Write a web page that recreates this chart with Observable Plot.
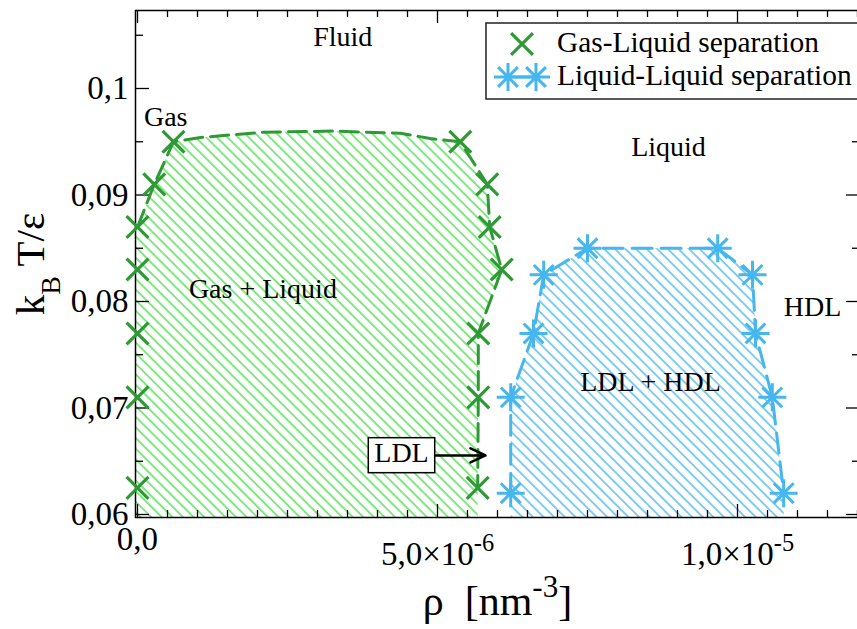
<!DOCTYPE html>
<html><head><meta charset="utf-8">
<script src="https://cdn.jsdelivr.net/npm/d3@7"></script>
<script src="https://cdn.jsdelivr.net/npm/@observablehq/plot@0.6"></script>
<style>
html,body{margin:0;padding:0;background:#fff;overflow:hidden}
#chart{position:relative;width:857px;height:629px}
</style>
</head><body>
<svg width="0" height="0" style="position:absolute">
<defs>
<pattern id="hatchGreen" patternUnits="userSpaceOnUse" width="7.5" height="7.5" patternTransform="rotate(45)">
<line x1="0" y1="3.75" x2="7.5" y2="3.75" stroke="#3ede3e" stroke-width="1.3"/>
</pattern>
<pattern id="hatchBlue" patternUnits="userSpaceOnUse" width="7.5" height="7.5" patternTransform="rotate(45)">
<line x1="0" y1="3.75" x2="7.5" y2="3.75" stroke="#3cb3ec" stroke-width="1.3"/>
</pattern>
</defs></svg>
<div id="chart"></div>
<script>
// ---- data ----
const xTicks = [0, 5e-6, 1e-5];
const xTickLabels = ["0,0", "5,0×10^{-6}", "1,0×10^{-5}"];
const xMinorTicks = [0.5e-6, 1e-6, 1.5e-6, 2e-6, 2.5e-6, 3e-6, 3.5e-6, 4e-6, 4.5e-6,
  5.5e-6, 6e-6, 6.5e-6, 7e-6, 7.5e-6, 8e-6, 8.5e-6, 9e-6, 9.5e-6, 10.5e-6, 11e-6, 11.5e-6, 12e-6];
const yTicks = [0.06, 0.07, 0.08, 0.09, 0.1];
const yTickLabels = ["0,06", "0,07", "0,08", "0,09", "0,1"];
const yMinorTicks = [0.065, 0.075, 0.085, 0.095, 0.105];

// Gas-Liquid separation points (ordered along the boundary)
const glRho = [0, 0, 0, 0, 0, 0.28e-6, 0.6e-6, 5.38e-6, 5.83e-6, 5.87e-6, 6.07e-6, 5.68e-6, 5.68e-6, 5.67e-6];
const glT   = [0.0625, 0.071, 0.077, 0.083, 0.087, 0.091, 0.095, 0.095, 0.091, 0.087, 0.083, 0.077, 0.071, 0.0625];
// top of the gas-liquid dome (dashed guide line)
const glDomeRho = [1.05e-6, 2.1e-6, 3.27e-6, 4.38e-6, 4.88e-6];
const glDomeT   = [0.0954, 0.0959, 0.0960, 0.0958, 0.0953];

// Liquid-Liquid separation points
const llRho = [6.22e-6, 6.22e-6, 6.6e-6, 6.77e-6, 7.5e-6, 9.67e-6, 10.25e-6, 10.3e-6, 10.58e-6, 10.77e-6];
const llT   = [0.062, 0.071, 0.077, 0.0825, 0.085, 0.085, 0.0825, 0.077, 0.071, 0.062];

// annotations
const noteText = ["Fluid", "Gas", "Liquid", "Gas + Liquid", "HDL", "LDL + HDL", "LDL"];
const noteRho  = [3.42e-6, 0.47e-6, 8.85e-6, 2.09e-6, 11.25e-6, 8.55e-6, 4.4e-6];
const noteT    = [0.1048, 0.0973, 0.0945, 0.0812, 0.0795, 0.0724, 0.0658];
const arrowRho = [4.97e-6, 5.8e-6];
const arrowT   = [0.06555, 0.06555];

const legendLabels = ["Gas-Liquid separation", "Liquid-Liquid separation"];
const xLabel = "ρ  [nm^{-3}]";
const yLabel = "k_{B} T/ε";

const xDom = [-0.0333e-6, 12.0333e-6];
const yDom = [0.059718, 0.107324];

const green = "#2f9a35", blue = "#45b7ee";
const FONT = "'Liberation Serif', 'Times New Roman', serif";

// ---- derived tables ----
const gl = glRho.map((x, i) => ({x, y: glT[i]}));
const dome = glDomeRho.map((x, i) => ({x, y: glDomeT[i]}));
const glBoundary = [...gl.slice(0, 7), ...dome, ...gl.slice(7)];
const glFill = [{x: xDom[0], y: yDom[0]}, {x: xDom[0], y: gl[4].y}, ...glBoundary.slice(4), {x: gl[gl.length - 1].x, y: yDom[0]}];
const ll = llRho.map((x, i) => ({x, y: llT[i]}));
const llFill = [{x: ll[0].x, y: yDom[0]}, ...ll, {x: ll[ll.length - 1].x, y: yDom[0]}];
const notes = noteText.map((t, i) => ({t, x: noteRho[i], y: noteT[i]}));
const arrows = [{x1: arrowRho[0], x2: arrowRho[1], y1: arrowT[0], y2: arrowT[1]}];

const asterisk8 = {
  draw(ctx, size) {
    const r = Math.sqrt(size / Math.PI), d = r * Math.SQRT1_2;
    ctx.moveTo(-r, 0); ctx.lineTo(r, 0);
    ctx.moveTo(0, -r); ctx.lineTo(0, r);
    ctx.moveTo(-d, -d); ctx.lineTo(d, d);
    ctx.moveTo(-d, d); ctx.lineTo(d, -d);
  }
};

const mL = 135, mR = -2, mT = 10, mB = 112, Wd = 857, Ht = 629;
const FW = Wd - mL - mR, FH = Ht - mT - mB;
const tk = {stroke: "#000", strokeWidth: 1.3};

const chart = Plot.plot({
  width: Wd, height: Ht,
  marginLeft: mL, marginRight: mR, marginTop: mT, marginBottom: mB,
  style: {fontFamily: FONT, background: "white", color: "#000"},
  x: {domain: xDom, label: null},
  y: {domain: yDom, label: null},
  marks: [
    Plot.line(glFill, {x: "x", y: "y", fill: "url(#hatchGreen)", stroke: "none"}),
    Plot.line(llFill, {x: "x", y: "y", fill: "url(#hatchBlue)", stroke: "none"}),
    Plot.frame({stroke: "#000", strokeWidth: 1.5}),
    Plot.tickX(xTicks, {x: d => d, insetTop: FH - 13, ...tk}),
    Plot.tickX(xMinorTicks, {x: d => d, insetTop: FH - 7, ...tk}),
    Plot.tickX(xTicks, {x: d => d, insetBottom: FH - 13, ...tk}),
    Plot.tickX(xMinorTicks, {x: d => d, insetBottom: FH - 7, ...tk}),
    Plot.tickY(yTicks, {y: d => d, insetRight: FW - 14, ...tk}),
    Plot.tickY(yMinorTicks, {y: d => d, insetRight: FW - 8, ...tk}),
    Plot.tickY(yTicks, {y: d => d, insetLeft: FW - 13, ...tk}),
    Plot.tickY(yMinorTicks, {y: d => d, insetLeft: FW - 7, ...tk}),
    Plot.line(glBoundary.slice(4), {x: "x", y: "y", stroke: green, strokeWidth: 3, strokeDasharray: "18,8"}),
    Plot.line(ll, {x: "x", y: "y", stroke: blue, strokeWidth: 3, strokeDasharray: "20,9"}),
    Plot.dot(gl, {x: "x", y: "y", symbol: "times", r: 10, stroke: green, strokeWidth: 3.2}),
    Plot.dot(ll, {x: "x", y: "y", symbol: asterisk8, r: 14, stroke: blue, fill: "none", strokeWidth: 3}),
    Plot.text(notes, {x: "x", y: "y", text: "t", fontSize: 28, fill: "#000"}),
    Plot.arrow(arrows, {x1: "x1", y1: "y1", x2: "x2", y2: "y2", stroke: "#000", strokeWidth: 2.5, headLength: 10, headAngle: 50}),
    Plot.axisX(xTicks, {tickSize: 0, tickPadding: 9, fontSize: 33, label: null, tickFormat: d => xTickLabels[xTicks.indexOf(d)]}),
    Plot.axisY(yTicks, {tickSize: 0, tickPadding: 7, fontSize: 33, label: null, tickFormat: d => yTickLabels[yTicks.indexOf(d)]}),
    Plot.text([yLabel], {text: d => d, frameAnchor: "left", textAnchor: "middle", lineAnchor: "middle", dx: -105, rotate: -90, fontSize: 41, fill: "#000"}),
    Plot.text([xLabel], {text: d => d, frameAnchor: "bottom", textAnchor: "middle", lineAnchor: "middle", dy: 84, fontSize: 42, fill: "#000"})
  ]
});
document.getElementById("chart").appendChild(chart);

// ---- rich text (sub/superscripts) ----
const NS = "http://www.w3.org/2000/svg";
function richify(el, lowerPx) {
  const s = el.textContent;
  if (!/[_^]\{/.test(s)) return;
  const fs = parseFloat(getComputedStyle(el).fontSize);
  el.textContent = "";
  const parts = [], re = /([_^])\{([^}]*)\}/g;
  let last = 0, m;
  while ((m = re.exec(s))) {
    if (m.index > last) parts.push({t: s.slice(last, m.index)});
    parts.push({t: m[2], k: m[1]});
    last = re.lastIndex;
  }
  if (last < s.length) parts.push({t: s.slice(last)});
  let cur = 0, first = true;
  for (const p of parts) {
    const ts = document.createElementNS(NS, "tspan");
    let target = 0;
    if (p.k === "^") { target = -0.42 * fs; ts.setAttribute("font-size", 0.74 * fs); }
    else if (p.k === "_") { target = 0.4 * fs; ts.setAttribute("font-size", 0.68 * fs); }
    let dy = target - cur;
    if (first) dy += lowerPx;
    first = false;
    if (dy) ts.setAttribute("dy", dy);
    cur = target;
    ts.textContent = p.t;
    el.appendChild(ts);
  }
}
const svg = chart.tagName.toLowerCase() === "svg" ? chart : chart.querySelector("svg");
svg.querySelectorAll("text").forEach(el => {
  const isXTick = el.textContent.includes("×10");
  richify(el, isXTick ? 15 : 0);
});

// ---- LDL box ----
svg.querySelectorAll("text").forEach(el => {
  if (el.textContent === "LDL") {
    const b = el.getBBox();
    const r = document.createElementNS(NS, "rect");
    r.setAttribute("x", b.x - 6); r.setAttribute("y", b.y + 1);
    r.setAttribute("width", b.width + 12); r.setAttribute("height", b.height + 4);
    r.setAttribute("fill", "#fff"); r.setAttribute("stroke", "#000"); r.setAttribute("stroke-width", 1.5);
    const t = el.getAttribute("transform");
    if (t) r.setAttribute("transform", t);
    el.parentNode.insertBefore(r, el);
  }
});

// ---- legend ----
const lg = d3.select(svg).append("g").attr("font-family", FONT).attr("text-anchor", "start");
lg.append("rect").attr("x", 486).attr("y", 23).attr("width", 400).attr("height", 76)
  .attr("fill", "#fff").attr("stroke", "#222").attr("stroke-width", 1.5);
lg.append("path").attr("transform", "translate(522,44)")
  .attr("d", d3.symbol(d3.symbolTimes, Math.PI * 100)())
  .attr("fill", "none").attr("stroke", green).attr("stroke-width", 3.2);
lg.append("line").attr("x1", 508).attr("x2", 536).attr("y1", 77).attr("y2", 77)
  .attr("stroke", blue).attr("stroke-width", 3);
[508, 536].forEach(cx => lg.append("path").attr("transform", `translate(${cx},77)`)
  .attr("d", d3.symbol(asterisk8, Math.PI * 14 * 14)())
  .attr("fill", "none").attr("stroke", blue).attr("stroke-width", 3));
legendLabels.forEach((t, i) => lg.append("text").attr("x", 557).attr("y", 52 + 33 * i)
  .attr("text-anchor", "start").attr("font-size", 29.4).attr("fill", "#000").text(t));
</script>
</body></html>
